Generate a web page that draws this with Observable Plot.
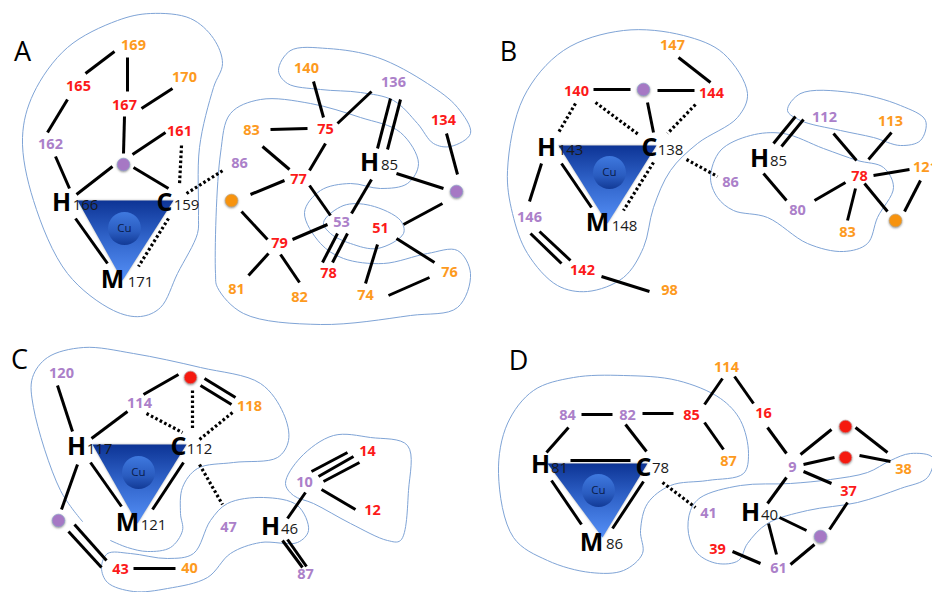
<!DOCTYPE html>
<html>
<head>
<meta charset="utf-8">
<style>
html,body{margin:0;padding:0;background:#fff;overflow:hidden}
.shadow{filter:drop-shadow(0.5px 1px 1px rgba(60,60,60,.55))}
.glow{filter:drop-shadow(0 0 1px rgba(120,120,120,.6))}
</style>
<script src="https://cdn.jsdelivr.net/npm/d3@7"></script>
<script src="https://cdn.jsdelivr.net/npm/@observablehq/plot@0.6"></script>
</head>
<body>
<script>
const panelLetters = [["A",22,52],["B",508,52],["C",19,360],["D",518,361]];

const solidBonds = [
  // A
  [114,51,85,73],[127,57,127,91],[172,88,141,108],[67,99,47,132],[124,116,123,153],[165,132,132,154],
  [55,156,69,188],[112,166,76,194],[133,167,168,188],[75,218,107,263],
  [313,81,323,117],[371,91,337,123],[270,129,307,128],[325,143,309,170],[262,146,289,169],[284,180,250,194],
  [309,185,330,215],[241,211,267,239],[292,239,327,224],[268,253,248,275],[280,254,299,282],[371,179,351,213],
  [390,98,377,148],[400,99,387,149],[337,233,322,262],[347,233,332,262],[396,173,443,188],[446,133,457,174],
  [442,203,403,224],[396,238,434,262],[377,244,365,283],[388,295,429,277],
  // B
  [678,57,710,82],[593,89,630,89],[657,90,694,90],[647,102,653,132],[541,163,529,201],[561,163,591,207],
  [530,233,561,263],[539,231,570,260],[601,276,649,291],
  [795,116,773,143],[803,119,781,146],[833,133,856,160],[891,132,868,159],[873,175,909,169],[864,183,887,211],
  [920,180,904,211],[845,182,814,200],[855,188,847,220],[763,173,786,200],
  // C
  [57,385,72,431],[178,374,143,394],[127,411,91,438],[204,378,235,397],[200,385,231,404],[90,462,121,506],
  [183,462,152,509],[77,464,61,509],[74,524,106,560],[68,531,101,567],[133,568,175,568],[305,492,287,518],
  [311,471,347,452],[318,476,353,456],[323,481,359,462],[321,489,355,509],[282,540,302,567],[287,539,306,566],
  // D
  [722,378,704,404],[734,376,753,403],[581,414,612,414],[642,413,673,413],[704,422,723,449],[568,427,546,452],
  [625,424,646,451],[570,460,630,460],[551,480,581,524],[643,481,612,528],[767,427,786,453],[800,454,831,429],
  [855,427,887,452],[803,464,834,457],[859,455,890,461],[803,471,831,483],[786,477,767,503],[847,502,829,529],
  [779,517,806,530],[768,523,776,554],[814,544,790,564],[732,551,760,563]
];

const dottedBonds = [
  [181,145,179,184],[186,193,224,169],[168,218,138,266],
  [575,103,558,132],[595,102,638,134],[695,104,667,133],[653,162,623,210],[686,159,717,176],
  [146,413,182,432],[192,390,192,429],[232,412,199,439],[199,464,222,504],
  [662,482,695,507]
];

const redLabels = [
  ["165",78,86],["167",124,105],["161",179,131],["75",325,129],["77",298,179],["134",443,120],["51",380,228],["79",279,243],["78",328,273],
  ["140",576,91],["144",711,93],["142",582,270],["78",859,176],
  ["43",120,569],["14",367,451],["12",372,510],
  ["85",691,415],["16",763,413],["37",848,491],["39",717,549]
];
const orangeLabels = [
  ["169",133,45],["170",184,77],["140",306,68],["83",251,130],["76",449,272],["81",236,289],["82",299,297],["74",365,295],
  ["147",672,45],["98",669,290],["113",890,121],["121",925,167],["83",847,232],
  ["118",249,406],["40",189,568],
  ["114",726,367],["87",728,461],["38",903,469]
];
const purpleLabels = [
  ["162",50,144],["86",239,163],["136",393,82],["53",341,222],
  ["146",529,217],["86",730,182],["112",824,117],["80",797,210],
  ["120",61,373],["114",139,403],["47",228,527],["10",304,482],["87",305,574],
  ["84",567,415],["82",627,415],["9",792,467],["41",708,513],["61",778,568]
];

const bigLetters = [
  ["H",61,202],["C",164,202],["M",112,279],["H",369,162],
  ["H",546,147],["C",649,147],["M",597,222],["H",759,158],
  ["H",76,446],["C",178,446],["M",127,522],["H",270,526],
  ["H",540,464],["C",643,467],["M",591,542],["H",750,512]
];
const subscripts = [
  ["166",85,205],["159",186,205],["171",140,282],["85",389,165],
  ["143",570,150],["138",670,150],["148",624,226],["85",778,161],
  ["117",99,449],["112",199,449],["121",153,525],["46",289,529],
  ["81",559,468],["78",660,468],["86",614,544],["40",769,515]
];

const purpleDots = [[123,164],[456,191],[643,89],[58,520],[820,536]];
const orangeDots = [[231,200],[895,220]];
const redDots = [[190,377],[845,426],[845,457]];
const cuCentres = [[124,228],[609,172],[138,472],[598,490]];

const triangles = [
  [[77,200],[173,200],[122,280]],
  [[558,145],[656,145],[607,223]],
  [[92,444],[186,444],[137,523]],
  [[547,463],[647,463],[602,537]]
];

const closedOutlines = [
  [[22,137],[33,93],[67,47],[117,20],[150,13],[190,18],[213,38],[222,63],[213,87],[199,147],[198,215],[197,233],[177,273],[160,307],[140,316],[113,310],[67,273],[33,200]],
  [[215,273],[220,153],[230,113],[260,99],[310,103],[360,117],[400,132],[418,163],[407,183],[380,188],[350,183],[320,190],[304,212],[320,243],[343,258],[383,263],[427,253],[457,250],[470,273],[457,307],[410,315],[320,324],[243,313],[217,287]],
  [[278,70],[290,50],[327,48],[377,57],[427,83],[457,107],[470,133],[450,146],[433,143],[417,123],[393,100],[360,92],[320,89],[287,83]],
  [[323,222],[343,205],[370,205],[400,220],[403,233],[377,248],[350,243],[330,233]],
  [[507,170],[523,97],[563,50],[623,30],[683,35],[723,53],[747,93],[737,117],[697,143],[670,170],[653,207],[643,247],[623,277],[587,291],[557,285],[527,253],[512,213]],
  [[710,177],[720,150],[750,135],[783,133],[823,148],[857,160],[883,167],[893,187],[877,217],[867,243],[843,251],[807,243],[767,217],[733,210],[717,197]],
  [[787,110],[800,93],[850,92],[900,105],[925,120],[920,140],[900,145],[873,137],[840,130],[800,120]],
  [[101,567],[107,553],[130,553],[167,558],[193,553],[210,520],[227,503],[263,497],[297,505],[308,530],[297,542],[260,542],[230,553],[207,577],[167,588],[133,591],[107,582]],
  [[285,483],[300,457],[333,435],[370,437],[407,445],[408,490],[400,540],[387,540],[350,523],[313,503],[293,495]],
  [[498,473],[507,423],[533,390],[573,377],[623,375],[677,380],[720,398],[740,420],[748,453],[743,473],[707,480],[670,485],[647,503],[640,530],[642,553],[623,570],[590,572],[547,560],[513,537]],
  [[690,510],[700,497],[740,485],[790,483],[830,479],[867,472],[890,460],[910,453],[932,457],[927,477],[900,488],[857,502],[807,510],[767,523],[747,543],[738,560],[717,563],[697,553],[688,533]]
];
const openOutlines = [
  [[82,521],[60,490],[33,407],[32,377],[47,357],[83,347],[133,353],[200,367],[260,383],[283,413],[288,440],[277,457],[233,462],[197,468],[182,487],[180,513],[182,530],[170,547],[147,551],[127,547],[110,540]]
];

const defs = () => {
  const ns = "http://www.w3.org/2000/svg";
  const d = document.createElementNS(ns, "defs");
  d.innerHTML = `
    <linearGradient id="tri" x1="0" y1="0" x2="0" y2="1">
      <stop offset="0" stop-color="#0d3495"/>
      <stop offset="0.45" stop-color="#2f62c8"/>
      <stop offset="1" stop-color="#5590f7"/>
    </linearGradient>
    <linearGradient id="cu" x1="0" y1="0" x2="0" y2="1">
      <stop offset="0" stop-color="#3f79df"/>
      <stop offset="0.6" stop-color="#2a5cc0"/>
      <stop offset="1" stop-color="#123a96"/>
    </linearGradient>`;
  return d;
};

const rows = list => list.map(([label,x,y]) => ({label,x,y}));
const pts = list => list.map(([x,y]) => ({x,y}));
const segs = list => list.map(([x1,y1,x2,y2]) => ({x1,y1,x2,y2}));
const grouped = list => list.flatMap((p,i) => p.map(([x,y]) => ({x,y,g:i})));

const numFont = {fontFamily:"Open Sans",fontWeight:"bold",fontSize:14.5};
const outline = {x:"x",y:"y",z:"g",stroke:"#7fa4d6",strokeWidth:1,fill:"none"};

const chart = Plot.plot({
  width:932,height:592,
  margin:0,
  x:{domain:[0,932],range:[0,932],axis:null},
  y:{domain:[0,592],range:[0,592],axis:null},
  style:{background:"#fff"},
  marks:[
    defs,
    Plot.line(grouped(closedOutlines),{...outline,curve:"catmull-rom-closed"}),
    Plot.line(grouped(openOutlines),{...outline,curve:"catmull-rom"}),
    ...triangles.map(t => Plot.line(pts(t),{x:"x",y:"y",fill:"url(#tri)",stroke:"none",curve:"linear-closed",className:"glow"})),
    Plot.dot(pts(cuCentres),{x:"x",y:"y",r:16.5,fill:"url(#cu)",stroke:"none"}),
    Plot.text(pts(cuCentres),{x:"x",y:"y",text:()=>"Cu",fontFamily:"Open Sans",fontSize:11.5,fill:"#0b1c4a"}),
    Plot.link(segs(solidBonds),{x1:"x1",y1:"y1",x2:"x2",y2:"y2",stroke:"#000",strokeWidth:3,strokeLinecap:"butt"}),
    Plot.link(segs(dottedBonds),{x1:"x1",y1:"y1",x2:"x2",y2:"y2",stroke:"#000",strokeWidth:3.2,strokeDasharray:"2.6 2.4"}),
    Plot.dot(pts(purpleDots),{x:"x",y:"y",r:6.3,fill:"#a678c4",stroke:"#8fa3cf",strokeWidth:.7,className:"shadow"}),
    Plot.dot(pts(orangeDots),{x:"x",y:"y",r:6.3,fill:"#f7930e",stroke:"#c9a26a",strokeWidth:.7,className:"shadow"}),
    Plot.dot(pts(redDots),{x:"x",y:"y",r:6.3,fill:"#f5190f",stroke:"#c98a8a",strokeWidth:.7,className:"shadow"}),
    Plot.text(rows(redLabels),{x:"x",y:"y",text:"label",fill:"#fc1a1a",...numFont}),
    Plot.text(rows(orangeLabels),{x:"x",y:"y",text:"label",fill:"#fd9a1e",...numFont}),
    Plot.text(rows(purpleLabels),{x:"x",y:"y",text:"label",fill:"#ab80c9",...numFont}),
    Plot.text(rows(bigLetters),{x:"x",y:"y",text:"label",fill:"#000",fontFamily:"Open Sans",fontWeight:"bold",fontSize:25}),
    Plot.text(rows(subscripts),{x:"x",y:"y",text:"label",fill:"#1a1a1a",fontFamily:"Open Sans",fontSize:15}),
    Plot.text(rows(panelLetters),{x:"x",y:"y",text:"label",fill:"#000",fontFamily:"Open Sans",fontSize:27})
  ]
});
document.body.appendChild(chart);
</script>
</body>
</html>
